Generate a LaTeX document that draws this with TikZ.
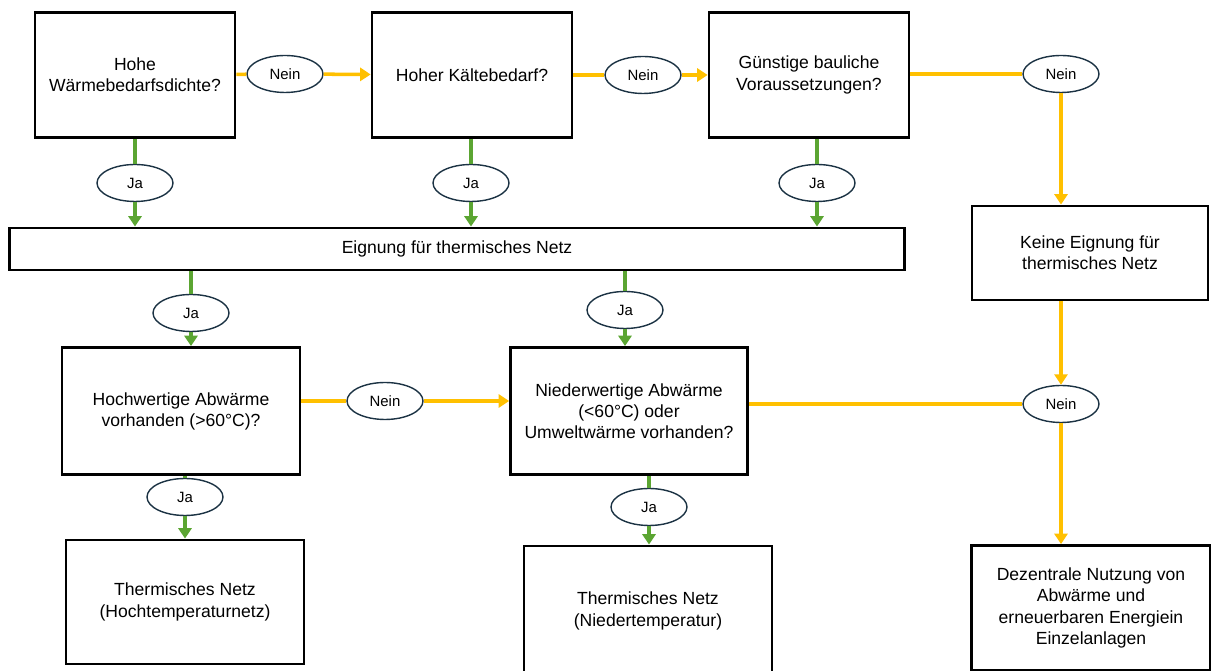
\documentclass[tikz,border=0pt]{standalone}
\usepackage{fontspec}
\setmainfont{Liberation Sans}
\usetikzlibrary{arrows.meta,shapes.geometric}
\definecolor{jagreen}{HTML}{5BA532}
\definecolor{neinyellow}{HTML}{FFC000}
\definecolor{ovalline}{HTML}{1C3344}
\begin{document}
\begin{tikzpicture}[x=0.02cm,y=-0.02cm,
    font=\fontsize{10}{12}\selectfont,
    box/.style={draw,line width=1.6pt,align=center,minimum width=4cm,minimum height=2.5cm},
    oval/.style={draw=ovalline,line width=0.8pt,ellipse,fill=white,minimum width=1.52cm,minimum height=0.74cm,inner sep=0pt,font=\fontsize{8.5}{10}\selectfont},
    ja/.style={draw=jagreen,line width=2pt},
    nein/.style={draw=neinyellow,line width=2pt},
    tip/.style={-{Triangle[length=6pt,width=7.5pt]}}]
    \useasboundingbox (0,0) rectangle (1211,671);
    % questions
    \node[box] (waerme) at (135,75) {Hohe\\Wärmebedarfsdichte?};
    \node[box] (kaelte) at (472,75) {Hoher Kältebedarf?};
    \node[box] (bau) at (809,75) {Günstige bauliche\\Voraussetzungen?};
    \node[box,minimum width=17.9cm,minimum height=0.84cm] (eignung) at (457,249) {Eignung für thermisches Netz};
    \node[box,minimum width=4.72cm,minimum height=1.88cm] (keine) at (1090,253) {Keine Eignung für\\thermisches Netz};
    \node[box,minimum width=4.76cm,minimum height=2.54cm] (hoch) at (181,411) {Hochwertige Abwärme\\vorhanden (>60°C)?};
    \node[box,minimum width=4.74cm,minimum height=2.54cm] (nieder) at (629,411) {Niederwertige Abwärme\\(<60°C) oder\\Umweltwärme vorhanden?};
    % results
    \node[box,minimum width=4.76cm,minimum height=2.48cm] (tnhoch) at (185,602) {Thermisches Netz\\(Hochtemperaturnetz)};
    \node[box,minimum width=4.96cm,minimum height=2.6cm] (tnnieder) at (648,611) {Thermisches Netz\\(Niedertemperatur)};
    \node[box,minimum width=4.78cm,minimum height=2.5cm] (dezentral) at (1091,608) {Dezentrale Nutzung von\\Abwärme und\\erneuerbaren Energiein\\Einzelanlagen};
    % answers
    \node[oval] (nein1) at (285,74) {Nein};
    \node[oval] (nein2) at (643,75) {Nein};
    \node[oval] (nein3) at (1061,74) {Nein};
    \node[oval] (nein4) at (385,401) {Nein};
    \node[oval] (nein5) at (1061,404) {Nein};
    \node[oval] (ja1) at (135,183) {Ja};
    \node[oval] (ja2) at (471,183) {Ja};
    \node[oval] (ja3) at (817,183) {Ja};
    \node[oval] (ja4) at (191,313) {Ja};
    \node[oval] (ja5) at (625,310) {Ja};
    \node[oval] (ja6) at (185,497) {Ja};
    \node[oval] (ja7) at (649,507) {Ja};
    % no
    \draw[nein] (waerme) -- (nein1);
    \draw[nein,tip] (nein1) -- (kaelte);
    \draw[nein] (kaelte) -- (nein2);
    \draw[nein,tip] (nein2) -- (bau);
    \draw[nein] (bau.east |- nein3) -- (nein3);
    \draw[nein,tip] (nein3) -- (nein3 |- keine.north);
    \draw[nein] (hoch.east |- nein4) -- (nein4);
    \draw[nein,tip] (nein4) -- (nieder.west |- nein4);
    \draw[nein] (nieder.east |- nein5) -- (nein5);
    \draw[nein,tip] (nein3 |- keine.south) -- (nein5);
    \draw[nein,tip] (nein5) -- (nein5 |- dezentral.north);
    % yes
    \foreach \a/\j in {waerme/ja1,kaelte/ja2,bau/ja3}{
        \draw[ja] (\j |- \a.south) -- (\j);
        \draw[ja,tip] (\j) -- (\j |- eignung.north);
    }
    \draw[ja] (ja4 |- eignung.south) -- (ja4);
    \draw[ja,tip] (ja4) -- (ja4 |- hoch.north);
    \draw[ja] (ja5 |- eignung.south) -- (ja5);
    \draw[ja,tip] (ja5) -- (ja5 |- nieder.north);
    \draw[ja] (ja6 |- hoch.south) -- (ja6);
    \draw[ja,tip] (ja6) -- (ja6 |- tnhoch.north);
    \draw[ja] (ja7 |- nieder.south) -- (ja7);
    \draw[ja,tip] (ja7) -- (ja7 |- tnnieder.north);
\end{tikzpicture}
\end{document}
